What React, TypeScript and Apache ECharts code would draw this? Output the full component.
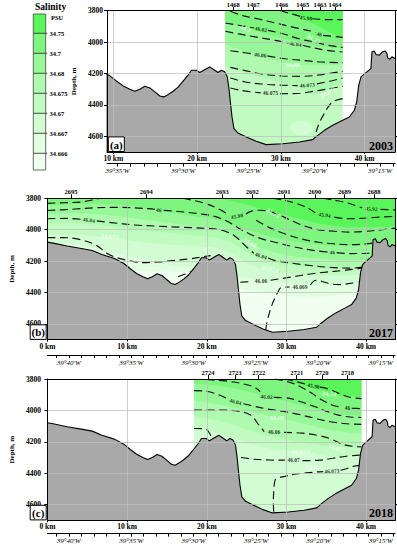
import React, { useEffect, useRef } from 'react';
import * as echarts from 'echarts';

const FONT = "'Liberation Serif', 'Times New Roman', serif";

// ---------- shared axes ----------
const kmTicks = [0, 10, 20, 30, 40];
const depthTicks = [3800, 4000, 4200, 4400, 4600];
const lonTickMinutes = [14, 15, 16, 17, 18, 19, 20, 21, 22, 23, 24, 25, 26, 27, 28, 29, 30, 31, 32, 33, 34, 35, 36, 37, 38, 39, 40, 41];
const lonLabelMinutes = [15, 20, 25, 30, 35, 40];

// ---------- legend ----------
const legendLabels = ['34.75', '34.7', '34.68', '34.675', '34.67', '34.667', '34.666'];
// colours from lowest salinity (<34.666) to highest (>34.75)
const bandColors = ['#f0fff0', '#e1fee1', '#d2fdd2', '#c2fbc2', '#aefaae', '#97f897', '#7ef57e', '#5af55a'];

// ---------- stations ----------
const stationsA = ['1468', '1467', '1466', '1465', '1463', '1464'];
const stationKmA = [24.32, 26.71, 30.1, 32.6, 34.67, 36.46];
const stationsB = ['2695', '2694', '2693', '2692', '2691', '2690', '2689', '2688'];
const stationKmB = [2.96, 12.39, 21.93, 25.7, 29.7, 33.55, 37.28, 41.0];
const stationsC = ['2724', '2723', '2722', '2721', '2720', '2718'];
const stationKmC = [20.15, 23.53, 26.51, 31.29, 34.47, 37.65];

// ---------- bathymetry (km, depth m) ----------
const bathymetry = [
  [0, 4079], [0.87, 4087], [2.46, 4104], [4.44, 4121], [5.63, 4132], [6.83, 4158], [8.41, 4183], [9.6, 4215],
  [10.4, 4249], [11.19, 4279], [11.98, 4300], [12.58, 4313], [13.17, 4300], [13.77, 4281], [14.37, 4292],
  [14.96, 4317], [15.56, 4343], [16.03, 4349], [16.55, 4334], [17.14, 4313], [17.74, 4287], [18.33, 4249],
  [18.93, 4211], [19.33, 4179], [19.92, 4179], [20.32, 4194], [20.79, 4179], [21.51, 4158], [22.1, 4179],
  [22.5, 4194], [22.9, 4179], [23.29, 4189], [23.6, 4221], [23.8, 4296], [23.97, 4381], [24.17, 4477],
  [24.4, 4551], [24.88, 4579], [25.87, 4604], [27.06, 4632], [28.25, 4653], [30.24, 4647], [32.22, 4636],
  [33.8, 4621], [34.4, 4594], [35.2, 4562], [36.19, 4530], [37.38, 4498], [38.17, 4477], [38.77, 4434],
  [39.05, 4381], [39.29, 4275], [39.56, 4221], [40.16, 4194], [40.75, 4168], [40.87, 4062], [41.15, 4057],
  [41.35, 4079], [41.75, 4083], [42.14, 4062], [42.46, 4057], [42.66, 4072], [42.74, 4100], [43.02, 4109],
  [43.25, 4094], [43.62, 4104],
];

// ---------- panel (a) 2003 ----------
const aBase = [[23.37, 4700], [37.37, 4700]];
const aSal675 = [[23.37, 4154], [26.16, 4203], [29.34, 4246], [32.12, 4292], [34.1, 4331], [35.5, 4313], [37.37, 4267]];
const aSal68 = [[23.37, 4016], [26.16, 4070], [28.94, 4112], [31.4, 4140], [34.1, 4148], [37.37, 4144]];
const aSal70 = [[23.37, 3868], [25.76, 3910], [28.54, 3953], [31.32, 3991], [34.1, 4021], [37.37, 4042]];
const aSal75 = [[23.37, 3800], [29.6, 3800], [30.93, 3815], [32.92, 3857], [34.91, 3910], [37.37, 3980]];
const aBlob = [[31.1, 4547], [31.6, 4515], [32.5, 4505], [33.4, 4515], [33.9, 4547], [33.4, 4580], [32.5, 4590], [31.6, 4580]];

const aLine4598 = [[29.93, 3800], [31.32, 3821], [32.3, 3836], null, [33.75, 3851], [35.7, 3857], [37.37, 3857]];
const aLine46 = [[23.97, 3804], [25.36, 3830], [27.35, 3853], [29.34, 3878], [31.53, 3906], [33.71, 3931], [34.15, 3940], null, [35.05, 3957], [37.37, 3970]];
const aLine4602 = [[23.37, 3878], [24.96, 3893], [26.8, 3910], null, [28.45, 3925], [30.33, 3948], [32.12, 3978], [33.91, 3999], [35.7, 4021], [37.37, 4034]];
const aLine4604 = [[23.37, 3931], [24.96, 3948], [26.95, 3967], [29.34, 3989], [30.9, 4006], null, [32.6, 4020], [34.91, 4048], [37.37, 4063]];
const aLine4606 = [[23.97, 4055], [25.36, 4065], [26.7, 4076], null, [28.4, 4088], [30.53, 4106], [32.92, 4118], [34.91, 4127], [37.37, 4131]];
const aLine4607 = [[23.97, 4161], [25.76, 4182], [27.74, 4203], [30.13, 4216], [32.52, 4218], [34.91, 4207], [37.37, 4186]];
const aLine46073 = [[23.97, 4229], [25.76, 4254], [27.74, 4267], [30.13, 4275], [32.0, 4277], null, [34.3, 4266], [36.1, 4246], [37.37, 4229]];
const aLine46075 = [[23.97, 4292], [25.36, 4309], [27.6, 4323], null, [29.9, 4329], [32.32, 4326], [33.91, 4313], [35.3, 4301], [37.37, 4282]];
const aLine46077 = [[37.37, 4360], [36.3, 4377], [35.7, 4409], [35.1, 4462], [34.59, 4515], [34.23, 4569], [34.03, 4622]];

const aDensLabels = [
  { t: '45.98', x: 32.99, y: 3846, r: -6 },
  { t: '46', x: 34.59, y: 3949, r: -15 },
  { t: '46.02', x: 27.63, y: 3917, r: -10 },
  { t: '46.04', x: 31.72, y: 4012, r: -8 },
  { t: '46.06', x: 27.55, y: 4081, r: -6 },
  { t: '46.073', x: 33.15, y: 4274, r: 5 },
  { t: '46.075', x: 28.74, y: 4326, r: 0 },
];
const aSalLabels = [
  { t: '34.7', x: 25.76, y: 3912, r: -30 },
  { t: '34.72', x: 33.91, y: 3978, r: -30 },
  { t: '34.68', x: 31.4, y: 4140, r: 0 },
  { t: '34.675', x: 35.6, y: 4318, r: 30 },
];

// ---------- panel (b) 2017 ----------
const bBase = [[0, 4700], [43.62, 4700]];
const bSal666 = [[0, 4200], [10, 4260], [20, 4280], [24, 4370], [27, 4400], [30, 4420], [33, 4430], [36, 4420], [39, 4400], [43.62, 4390]];
const bSal667 = [[0, 4090], [4, 4100], [8, 4140], [12, 4190], [16, 4230], [20, 4250], [24, 4300], [27, 4320], [30, 4340], [33, 4350], [36, 4350], [39, 4340], [43.62, 4330]];
const bSal670 = [[0, 4030], [3, 4030], [6, 4040], [9, 4060], [12, 4080], [15, 4095], [18, 4105], [21, 4115], [23, 4150], [25, 4210], [27, 4250], [29, 4270], [32, 4285], [35, 4292], [38, 4290], [41, 4280], [43.62, 4275]];
const bSal675 = [[0, 3960], [3, 3955], [6, 3965], [9, 3985], [12, 4005], [15, 4020], [18, 4035], [21, 4050], [23, 4080], [25, 4140], [27, 4190], [29, 4215], [32, 4235], [35, 4245], [38, 4245], [41, 4235], [43.62, 4230]];
const bSal68 = [[0, 3900], [3, 3895], [6, 3900], [9, 3915], [12, 3935], [15, 3955], [18, 3975], [21, 3995], [23, 4030], [25.3, 4082], [27, 4120], [29, 4150], [31, 4170], [34, 4185], [37, 4195], [40, 4195], [43.62, 4190]];
const bSal70 = [[0, 3845], [3, 3840], [6, 3835], [9, 3840], [12, 3860], [15, 3885], [18, 3910], [21, 3935], [23, 3965], [25, 4000], [27, 4030], [29, 4055], [31, 4075], [33, 4090], [35, 4100], [38, 4105], [40, 4100], [43.62, 4090]];
const bSal75 = [[0, 3800], [21, 3800], [23, 3815], [25, 3840], [27, 3870], [28.5, 3889], [30, 3910], [32, 3935], [34, 3960], [36, 3975], [38, 3985], [40, 3985], [43.62, 3980]];

const bLine1 = [[0, 3832], [2.2, 3828], [4.2, 3824], [5.8, 3809], [6.6, 3800]];
const bLine46 = [[0, 3878], [3, 3870], [6, 3860], [9, 3858], [12, 3864], [13.5, 3870], null, [14.6, 3877], [16.5, 3884], [19, 3898], [21, 3915], [22.5, 3945], [24, 3990], [25.5, 4030], [27, 4060], [29, 4085], [31, 4110], [33.5, 4133], [35.2, 4142], null, [36.3, 4146], [38, 4152], [40.2, 4150], [41, 4140]];
const bLine4604 = [[0, 3930], [2.5, 3928], [4.3, 3934], null, [6.2, 3944], [8, 3955], [11, 3970], [14, 3978], [17, 3985], [20, 3992], [22, 4005], [23.5, 4040], [25, 4110], [25.9, 4150], null, [27.7, 4180], [28.5, 4195], [30.5, 4212], [33, 4228], [35.5, 4240], [38, 4245], [40, 4235], [41, 4220]];
const bLine4606L = [[0, 4050], [2, 4050], [4, 4062], [6, 4095], [7.8, 4160], [10, 4195], [12, 4210], [14, 4205], [16, 4195], [18, 4185], [19.5, 4172], [20.5, 4165]];
const bLine4606R = [[24.2, 4335], [25.6, 4330], null, [28.0, 4322], [30.5, 4302], [33, 4282], [35, 4270], [37, 4260], [39, 4248], [40.2, 4235]];
const bLine46069 = [[27.4, 4640], [27.55, 4590], [27.8, 4540], [28.1, 4490], [28.5, 4440], [28.9, 4400], [29.3, 4370], [30.4, 4365], null, [33.0, 4352], [33.7, 4322], [34.5, 4330], [35.5, 4345], [36.8, 4350], [38, 4342], [39, 4330]];
const bLine4592 = [[34.6, 3800], [36, 3812], [37.7, 3830], [39.5, 3862], null, [41.8, 3871], [43.62, 3874]];
const bLine4594 = [[28.3, 3800], [29.7, 3812], [31.2, 3832], [32.6, 3860], [33.6, 3892], null, [36.0, 3920], [37.7, 3930], [39.3, 3928], [41, 3922], [43.62, 3915]];
const bLine4598 = [[17, 3800], [19.5, 3828], [21.5, 3868], [22.7, 3903], null, [24.9, 3900], [25.6, 3882], [26.6, 3876], [28, 3885], [29.7, 3920], [31.5, 3962], [33.7, 3997], [36, 4010], [38, 4015], [40, 4010], [42, 4000], [43.62, 3990]];
const bLine4602 = [[26.2, 3940], [28, 3990], [30, 4030], [32, 4060], [34, 4080], [36, 4090], [38, 4095], [40, 4090], [41.5, 4080]];
const bLineHill = [[16.4, 4300], [17.3, 4282], [18.3, 4262], [19.0, 4245]];

const bDensLabels = [
  { t: '46', x: 14.0, y: 3874, r: -5 },
  { t: '46.04', x: 5.2, y: 3938, r: -8 },
  { t: '45.98', x: 23.8, y: 3914, r: 10 },
  { t: '45.94', x: 34.8, y: 3906, r: -8 },
  { t: '45.92', x: 40.67, y: 3867, r: -3 },
  { t: '46.04', x: 26.8, y: 4166, r: -18 },
  { t: '46', x: 35.75, y: 4144, r: -3 },
  { t: '46.06', x: 26.8, y: 4327, r: 0 },
  { t: '46.069', x: 31.7, y: 4367, r: 0 },
];
const bSalLabels = [
  { t: '34.674', x: 7.8, y: 4044, r: -5 },
  { t: '34.75', x: 28.3, y: 3893, r: -30 },
  { t: '34.68', x: 25.4, y: 4080, r: -30 },
  { t: '34.674', x: 27.9, y: 4246, r: -15 },
];

// ---------- panel (c) 2018 ----------
const cBase = [[18.4, 4700], [39.4, 4700]];
const cSal670 = [[18.4, 4110], [20.5, 4130], [23, 4170], [25.5, 4215], [28, 4245], [30.5, 4258], [33, 4268], [35, 4290], [36.5, 4300], [38, 4290], [39.4, 4270]];
const cSal675 = [[18.4, 4035], [21, 4060], [23.5, 4095], [26, 4140], [28.5, 4170], [31, 4195], [33.5, 4215], [35.5, 4230], [37.5, 4235], [39.4, 4220]];
const cSal68 = [[18.4, 3935], [21, 3960], [24, 3990], [26.5, 4020], [28.8, 4047], [31, 4070], [33.5, 4100], [36, 4130], [39.4, 4150]];
const cSal70 = [[18.4, 3830], [21, 3840], [23.5, 3860], [26, 3890], [28.5, 3925], [31, 3955], [33.5, 3990], [36, 4020], [39.4, 4035]];
const cSal75 = [[18.4, 3800], [28.5, 3800], [30, 3812], [32, 3840], [34, 3870], [35.4, 3890], [37, 3905], [39.4, 3915]];

const cLine4598 = [[29.8, 3800], [31.5, 3820], [32.6, 3836], null, [34.2, 3852], [35, 3860], [36.5, 3890], [37.8, 3915], [39.4, 3925]];
const cLine46 = [[28.5, 3800], [30, 3815], [31.5, 3842], [33, 3885], [34.5, 3935], [36, 3970], [37.1, 3980], null, [38.2, 3986], [39.4, 3989]];
const cLine4602 = [[18.4, 3802], [20.3, 3805], [22.3, 3812], [24.3, 3828], [25.9, 3850], [26.7, 3880], null, [28.4, 3917], [30.2, 3922], [31.8, 3945], [33.5, 3975], [35, 4005], [36.5, 4030], [38, 4042], [39.4, 4045]];
const cLine4604 = [[18.4, 3874], [19.8, 3877], [21.5, 3900], [22.7, 3928], null, [24.6, 3958], [25.5, 3968], [27.5, 3990], [29.5, 4005], [31.5, 4025], [33.5, 4050], [35.5, 4072], [37.5, 4085], [39.4, 4089]];
const cLine4606 = [[18.4, 3998], [21.9, 3998], [24, 4005], [25.5, 4030], [26.5, 4090], [27.2, 4135], null, [29.7, 4140], [32, 4145], [34, 4160], [35.5, 4180], [37, 4215], [38.5, 4230], [39.4, 4232]];
const cLineHill = [[18.4, 4115], [19.8, 4118], [20.4, 4150], [20.6, 4180]];
const cLine4607 = [[24.3, 4300], [25.9, 4311], [27.9, 4316], [29.8, 4317], null, [32.0, 4320], [34.2, 4317], [35.8, 4305], [37.5, 4292], [39.2, 4285]];
const cLine46073 = [[28.4, 4645], [28.35, 4580], [28.4, 4520], [28.5, 4460], [28.7, 4435], [29.8, 4420], [31.2, 4405], [33.8, 4392], [34.6, 4390], null, [36.8, 4381], [37.5, 4372], [38.2, 4358], [39.2, 4350]];

const cDensLabels = [
  { t: '45.98', x: 33.4, y: 3844, r: -10 },
  { t: '46.02', x: 27.5, y: 3913, r: -5 },
  { t: '46.04', x: 23.6, y: 3944, r: -15 },
  { t: '46', x: 37.65, y: 3983, r: 0 },
  { t: '46.06', x: 28.45, y: 4140, r: 0 },
  { t: '46.07', x: 30.9, y: 4317, r: 0 },
  { t: '46.073', x: 35.7, y: 4386, r: 3 },
];
const cSalLabels = [
  { t: '34.74', x: 35.35, y: 3891, r: -5 },
  { t: '34.68', x: 28.8, y: 4047, r: 0 },
  { t: '34.673', x: 31.76, y: 4260, r: 0 },
  { t: '34.675', x: 36.3, y: 4238, r: -15 },
  { t: '34.677', x: 33.5, y: 4362, r: 0 },
];

// ---------- layout ----------
const GRID_COLOR = 'rgba(190,190,190,0.75)';

function buildOption() {
  const panels = [
    { grid: { left: 107, top: 10.7, width: 288, height: 141.3 }, kmMin: 9.25, lonMax: 35.81, lonOffset: 11.6, nameGap: 21, yMargin: 4, stations: stationsA, stationKm: stationKmA },
    { grid: { left: 29.5, top: 198.3, width: 365.5, height: 141.3 }, kmMin: 0, lonMax: 41.72, lonOffset: 15.5, nameGap: 19, yMargin: 6.5, stations: stationsB, stationKm: stationKmB },
    { grid: { left: 29.5, top: 379, width: 365.5, height: 141.3 }, kmMin: 0, lonMax: 41.72, lonOffset: 13.3, nameGap: 19, yMargin: 6.5, stations: stationsC, stationKm: stationKmC },
  ];
  const kmMax = 43.62;
  const lonMin = 13.86;
  const black = { color: '#000', width: 1 };
  const xAxis: any[] = [];
  const yAxis: any[] = [];
  panels.forEach((p, i) => {
    xAxis.push({
      gridIndex: i, type: 'value', min: p.kmMin, max: kmMax, position: 'bottom', z: 10,
      axisLine: { show: true, onZero: false, lineStyle: black },
      axisTick: { show: true, customValues: kmTicks, length: 2, lineStyle: black },
      axisLabel: { customValues: kmTicks, formatter: (v: number) => `${v} km`, fontFamily: FONT, fontWeight: 'bold', fontSize: 7.5, color: '#000', margin: 2.5 },
      splitLine: { show: true, lineStyle: { color: GRID_COLOR, width: 1 } },
    });
    xAxis.push({
      gridIndex: i, type: 'value', min: p.kmMin, max: kmMax, position: 'top', z: 10,
      axisLine: { show: true, onZero: false, lineStyle: black },
      axisTick: { show: true, customValues: p.stationKm, length: 4, lineStyle: black },
      axisLabel: {
        customValues: p.stationKm,
        formatter: (v: number) => {
          let best = 0;
          p.stationKm.forEach((k, j) => { if (Math.abs(k - v) < Math.abs(p.stationKm[best] - v)) best = j; });
          return p.stations[best];
        },
        fontFamily: FONT, fontWeight: 'bold', fontSize: 6.5, color: '#000', margin: 3,
      },
      splitLine: { show: false },
    });
    xAxis.push({
      gridIndex: i, type: 'value', min: lonMin, max: p.lonMax, inverse: true, position: 'bottom', offset: p.lonOffset, z: 10,
      axisLine: { show: true, onZero: false, lineStyle: black },
      axisTick: { show: true, customValues: lonTickMinutes, length: 3, lineStyle: black },
      axisLabel: { customValues: lonLabelMinutes, formatter: (v: number) => `39°${v}'W`, fontFamily: FONT, fontStyle: 'italic', fontSize: 7, color: '#000', margin: 4 },
      splitLine: { show: false },
    });
    yAxis.push({
      gridIndex: i, type: 'value', min: 3800, max: 4700, inverse: true, position: 'left', z: 10,
      name: 'Depth, m', nameLocation: 'middle', nameGap: p.nameGap,
      nameTextStyle: { fontFamily: FONT, fontWeight: 'bold', fontSize: 7, color: '#000' },
      axisLine: { show: true, onZero: false, lineStyle: black },
      axisTick: { show: true, customValues: depthTicks, length: 3, lineStyle: black },
      axisLabel: { customValues: depthTicks, formatter: (v: number) => String(v), fontFamily: FONT, fontWeight: 'bold', fontSize: 7.5, color: '#000', margin: p.yMargin },
      splitLine: { show: true, lineStyle: { color: GRID_COLOR, width: 1 } },
    });
    yAxis.push({
      gridIndex: i, type: 'value', min: 3800, max: 4700, inverse: true, position: 'right', z: 10,
      axisLine: { show: true, onZero: false, lineStyle: black },
      axisTick: { show: true, customValues: depthTicks, length: 3, lineStyle: black },
      axisLabel: { show: false },
      splitLine: { show: false },
    });
  });

  const series: any[] = [];
  const band = (i: number, pts: number[][], colorIdx: number) => series.push({
    type: 'line', xAxisIndex: 3 * i, yAxisIndex: 2 * i, data: pts, symbol: 'none', smooth: 0.3,
    lineStyle: { opacity: 0, width: 0 }, areaStyle: { color: bandColors[colorIdx], opacity: 1, origin: 'start' },
    z: 1, silent: true, animation: false,
  });
  const blob = (i: number, pts: number[][], colorIdx: number) => series.push({
    type: 'custom', xAxisIndex: 3 * i, yAxisIndex: 2 * i, data: [pts[0]], z: 1, silent: true, clip: true,
    renderItem: (_params: any, api: any) => ({
      type: 'polygon',
      shape: { points: pts.map((q) => api.coord(q)), smooth: 0.6 },
      style: { fill: bandColors[colorIdx] },
    }),
  });
  const contour = (i: number, pts: (number[] | null)[]) => series.push({
    type: 'line', xAxisIndex: 3 * i, yAxisIndex: 2 * i, symbol: 'none', smooth: 0.35, connectNulls: false,
    data: pts.map((q) => (q ? q : ['-', '-'])),
    lineStyle: { color: '#111', width: 1.15, type: [8, 4.5] }, z: 2, silent: true,
  });
  const labels = (i: number, list: { t: string; x: number; y: number; r: number }[], color: string, size: number) => series.push({
    type: 'scatter', xAxisIndex: 3 * i, yAxisIndex: 2 * i, symbolSize: 1, itemStyle: { color: 'rgba(0,0,0,0)' },
    data: list.map((l) => ({ value: [l.x, l.y], name: l.t, label: { rotate: l.r } })),
    label: { show: true, position: 'inside', formatter: '{b}', color, fontSize: size, fontWeight: 'bold', fontFamily: FONT },
    z: 4, silent: true,
  });
  const seabed = (i: number) => series.push({
    type: 'line', xAxisIndex: 3 * i, yAxisIndex: 2 * i, data: bathymetry, symbol: 'none',
    lineStyle: { color: '#000', width: 1.1 }, areaStyle: { color: '#a9a9a9', opacity: 1, origin: 'end' },
    z: 3, silent: true,
  });

  // panel a
  band(0, aBase, 3); band(0, aSal675, 4); band(0, aSal68, 5); band(0, aSal70, 6); band(0, aSal75, 7);
  blob(0, aBlob, 2);
  [aLine4598, aLine46, aLine4602, aLine4604, aLine4606, aLine4607, aLine46073, aLine46075, aLine46077].forEach((l) => contour(0, l));
  seabed(0);
  labels(0, aDensLabels, '#000', 5.5);
  labels(0, aSalLabels, '#fff', 6.5);

  // panel b
  band(1, bBase, 0); band(1, bSal666, 1); band(1, bSal667, 2); band(1, bSal670, 3); band(1, bSal675, 4);
  band(1, bSal68, 5); band(1, bSal70, 6); band(1, bSal75, 7);
  [bLine1, bLine46, bLine4604, bLine4606L, bLine4606R, bLine46069, bLine4592, bLine4594, bLine4598, bLine4602, bLineHill].forEach((l) => contour(1, l));
  seabed(1);
  labels(1, bDensLabels, '#000', 5.5);
  labels(1, bSalLabels, '#fff', 6.5);

  // panel c
  band(2, cBase, 2); band(2, cSal670, 3); band(2, cSal675, 4); band(2, cSal68, 5); band(2, cSal70, 6); band(2, cSal75, 7);
  [cLine4598, cLine46, cLine4602, cLine4604, cLine4606, cLineHill, cLine4607, cLine46073].forEach((l) => contour(2, l));
  seabed(2);
  labels(2, cDensLabels, '#000', 5.5);
  labels(2, cSalLabels, '#fff', 6.5);

  // legend + panel tags (graphic)
  const edges = [14, 33.3, 53.3, 73.3, 93.3, 113.3, 133.3, 153.3, 170];
  const lx = 33.3, lw = 12.4;
  const graphic: any[] = [];
  graphic.push({ type: 'text', left: 35, top: 1.5, style: { text: 'Salinity', font: `bold 9.5px ${FONT}`, fill: '#000' } });
  graphic.push({ type: 'text', left: 51, top: 13.5, style: { text: 'PSU', font: `bold 6.5px ${FONT}`, fill: '#000' } });
  for (let k = 0; k < 8; k++) {
    graphic.push({ type: 'rect', shape: { x: lx, y: edges[k], width: lw, height: edges[k + 1] - edges[k] }, style: { fill: bandColors[7 - k] } });
  }
  for (let k = 1; k < 8; k++) {
    graphic.push({ type: 'line', shape: { x1: lx, y1: edges[k], x2: lx + lw + 1.5, y2: edges[k] }, style: { stroke: '#222', lineWidth: 0.8 } });
    graphic.push({ type: 'text', x: 49.5, y: edges[k], style: { text: legendLabels[k - 1], font: `bold 6.5px ${FONT}`, fill: '#000', verticalAlign: 'middle' } });
  }
  graphic.push({ type: 'rect', shape: { x: lx, y: edges[0], width: lw, height: edges[8] - edges[0] }, style: { fill: 'none', stroke: '#444', lineWidth: 0.8 } });

  const tags = [
    { t: '(a)', year: '2003', x: 108.3, y: 136.9, yy: 145.7 },
    { t: '(b)', year: '2017', x: 30.2, y: 324.8, yy: 332.6 },
    { t: '(c)', year: '2018', x: 30.2, y: 505.3, yy: 513 },
  ];
  tags.forEach((g) => {
    graphic.push({ type: 'rect', shape: { x: g.x, y: g.y, width: 16, height: 14.6 }, style: { fill: '#fff', stroke: '#000', lineWidth: 1 } });
    graphic.push({ type: 'text', x: g.x + 8, y: g.y + 7.6, style: { text: g.t, font: `bold 11px ${FONT}`, fill: '#000', align: 'center', verticalAlign: 'middle' } });
    graphic.push({ type: 'text', x: 393, y: g.yy, style: { text: g.year, font: `bold 12px ${FONT}`, fill: '#000', align: 'right', verticalAlign: 'middle' } });
  });

  return {
    animation: false,
    backgroundColor: '#fff',
    grid: panels.map((p) => ({ ...p.grid, containLabel: false })),
    xAxis,
    yAxis,
    series,
    graphic: graphic.map((g) => ({ ...g, z: 100, silent: true })),
  };
}

export default function App() {
  const ref = useRef<HTMLDivElement>(null);
  useEffect(() => {
    document.body.style.margin = '0';
    const chart = echarts.init(ref.current as HTMLDivElement, null, { renderer: 'svg' });
    chart.setOption(buildOption() as any);
    return () => chart.dispose();
  }, []);
  return <div ref={ref} style={{ width: 397, height: 548 }} />;
}
